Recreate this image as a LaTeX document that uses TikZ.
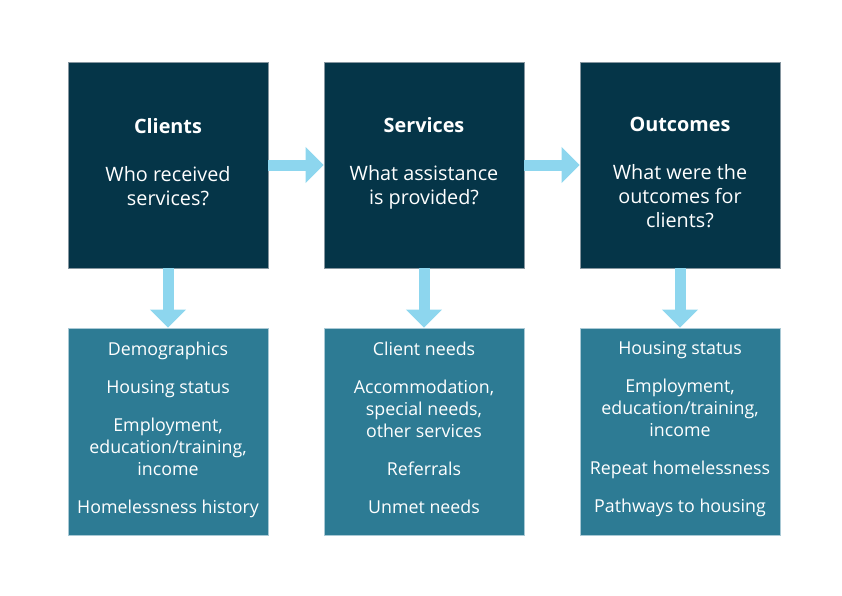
\documentclass[tikz,border=0pt]{standalone}
\usepackage{fontspec}
\setmainfont{Open Sans}
\usetikzlibrary{arrows.meta}
\definecolor{darkbox}{HTML}{053548}
\definecolor{darkedge}{HTML}{8696A0}
\definecolor{tealbox}{HTML}{2D7B94}
\definecolor{tealedge}{HTML}{A9C9D5}
\definecolor{arrowblue}{HTML}{8DD6EE}
\tikzset{
  topbox/.style={fill=darkbox, draw=darkedge, line width=0.8pt, minimum width=200pt, minimum height=206pt, inner sep=0pt},
  botbox/.style={fill=tealbox, draw=tealedge, line width=0.8pt, minimum width=200pt, minimum height=207pt, inner sep=0pt},
  toptext/.style={text=white, align=center, font=\fontsize{19.8}{24}\selectfont, inner sep=0pt},
  bottext/.style={text=white, align=center, font=\fontsize{17.8}{22}\selectfont, inner sep=0pt},
  flow/.style={draw=arrowblue, line width=11pt, -{Triangle[width=35pt,length=18pt]}}
}
\begin{document}
\begin{tikzpicture}[x=1pt,y=-1pt]
\useasboundingbox (0,0) rectangle (842,595);
% top boxes
\node[topbox] (c1) at (168,165) {};
\node[topbox] (s1) at (424,165) {};
\node[topbox] (o1) at (680,165) {};
% bottom boxes
\node[botbox] (c2) at (168,431.5) {};
\node[botbox] (s2) at (424,431.5) {};
\node[botbox] (o2) at (680,431.5) {};
% top texts
\node[toptext] (c1t) at (168,162.5) {\textbf{Clients}\\[24pt]Who received\\services?};
\node[toptext] (s1t) at (424,163.5) {\textbf{Services}\\[24pt]What assistance\\is provided?};
\node[toptext] (o1t) at (680,172) {\textbf{Outcomes}\\[24pt]What were the\\outcomes for\\clients?};
% bottom texts
\node[bottext] (c2t) at (168,430) {Demographics\\[16pt]Housing status\\[16pt]Employment,\\education/training,\\income\\[16pt]Homelessness history};
\node[bottext] (s2t) at (424,428) {Client needs\\[16pt]Accommodation,\\special needs,\\other services\\[16pt]Referrals\\[16pt]Unmet needs};
\node[bottext] (o2t) at (680,429) {Housing status\\[16pt]Employment,\\education/training,\\income\\[16pt]Repeat homelessness\\[16pt]Pathways to housing};
% arrows
\draw[flow] (c1.east) -- (s1.west);
\draw[flow] (s1.east) -- (o1.west);
\draw[flow] (c1.south) -- (c2.north);
\draw[flow] (s1.south) -- (s2.north);
\draw[flow] (o1.south) -- (o2.north);
\end{tikzpicture}
\end{document}
